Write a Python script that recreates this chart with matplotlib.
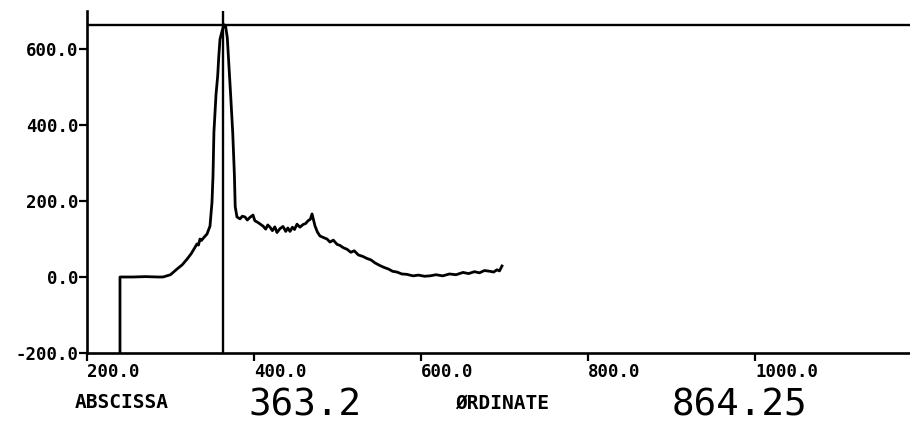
import numpy as np
import matplotlib
matplotlib.use("Agg")
import matplotlib.pyplot as plt

# trace (abscissa, ordinate)
abscissa = [239.5, 239.5, 255.0, 270.0, 285.0, 291.0, 300.0, 307.8, 314.0, 319.8,
            325.0, 331.7, 333.5, 335.3, 337.0, 340.0, 343.7, 347.3, 349.7, 350.9,
            352.0, 354.5, 356.5, 357.8, 359.3, 361.5, 364.0, 366.0, 368.0, 369.5,
            372.0, 374.5, 376.5, 377.5, 379.6, 383.2, 386.0, 389.2, 392.0, 395.2,
            398.8, 401.0, 403.6, 407.0, 410.8, 414.0, 416.5, 419.2, 422.0, 425.0,
            427.5, 431.0, 434.7, 438.0, 440.5, 443.1, 446.0, 448.5, 451.5, 455.0,
            458.7, 462.0, 464.7, 467.5, 469.5, 473.1, 476.0, 479.0, 483.0, 487.4,
            491.0, 495.0, 499.4, 503.0, 507.0, 511.4, 516.0, 520.0, 525.0, 530.5,
            535.0, 540.0, 545.0, 550.9, 556.0, 561.0, 566.0, 571.3, 577.0, 583.0,
            590.4, 597.0, 604.0, 610.8, 618.0, 626.0, 634.0, 642.0, 650.3, 657.0,
            664.0, 670.0, 676.0, 682.6, 687.0, 691.0, 694.0, 697.0]
ordinate = [-200.0, 0.0, 0.0, 1.0, 0.0, 0.0, 6.0, 21.0, 32.0, 47.0,
            62.0, 87.0, 84.0, 100.0, 96.0, 104.0, 113.0, 134.0, 197.0, 266.0,
            381.0, 480.0, 529.0, 580.0, 626.0, 645.0, 664.0, 660.0, 630.0, 574.0,
            480.0, 381.0, 270.0, 185.0, 158.0, 153.0, 160.0, 158.0, 150.0, 157.0,
            163.0, 148.0, 145.0, 140.0, 134.0, 126.0, 137.0, 131.0, 122.0, 132.0,
            117.0, 127.0, 133.0, 120.0, 129.0, 120.0, 131.0, 125.0, 139.0, 131.0,
            138.0, 141.0, 148.0, 152.0, 166.0, 134.0, 118.0, 108.0, 104.0, 100.0,
            92.0, 97.0, 86.0, 83.0, 77.0, 73.0, 65.0, 69.0, 58.0, 54.0,
            49.0, 45.0, 37.0, 30.0, 25.0, 21.0, 15.0, 13.0, 8.0, 7.0,
            3.0, 5.0, 2.0, 3.0, 6.0, 3.0, 8.0, 6.0, 12.0, 9.0,
            14.0, 11.0, 17.0, 15.0, 13.0, 19.0, 16.0, 29.0]

cursor_x = 363.2
cursor_y = 664.25
x_ticks = [200.0, 400.0, 600.0, 800.0, 1000.0]
y_ticks = [-200.0, 0.0, 200.0, 400.0, 600.0]

mono = "DejaVu Sans Mono"

fig = plt.figure(figsize=(9.1, 4.25), dpi=100)
ax = fig.add_axes([87 / 910, 72 / 425, 823 / 910, 342 / 425])

ax.plot(abscissa, ordinate, color="black", lw=2.0, solid_joinstyle="round")
# cursor cross-hair
ax.axvline(cursor_x, color="black", lw=1.7)
ax.axhline(cursor_y, color="black", lw=1.7)

ax.set_xlim(200, 200 + 823 / 0.835)
ax.set_ylim(-200, 700)

for side in ["top", "right"]:
    ax.spines[side].set_visible(False)
for side in ["left", "bottom"]:
    ax.spines[side].set_linewidth(1.9)

ax.set_xticks(x_ticks)
ax.set_yticks(y_ticks)
ax.set_xticklabels([f"{v:.1f}" for v in x_ticks], fontfamily=mono,
                   fontweight="bold", fontsize=12.5, ha="left")
ax.set_yticklabels([f"{v:.1f}" for v in y_ticks], fontfamily=mono,
                   fontweight="bold", fontsize=12.5)
ax.tick_params(axis="both", direction="out", length=6, width=1.6, color="black")
ax.tick_params(axis="x", pad=1)
ax.tick_params(axis="y", pad=0)

# read-out line under the plot
fig.text(75 / 910, 1 - 403 / 425, "ABSCISSA", fontfamily=mono,
         fontweight="bold", fontsize=14, va="center", ha="left")
fig.text(248 / 910, 1 - 415 / 425, "363.2", fontfamily=mono,
         fontsize=27, va="baseline", ha="left")
fig.text(455 / 910, 1 - 403 / 425, "ØRDINATE", fontfamily=mono,
         fontweight="bold", fontsize=14, va="center", ha="left")
fig.text(672 / 910, 1 - 415 / 425, "864.25", fontfamily=mono,
         fontsize=27, va="baseline", ha="left")

fig.savefig("out.png", dpi=100)
